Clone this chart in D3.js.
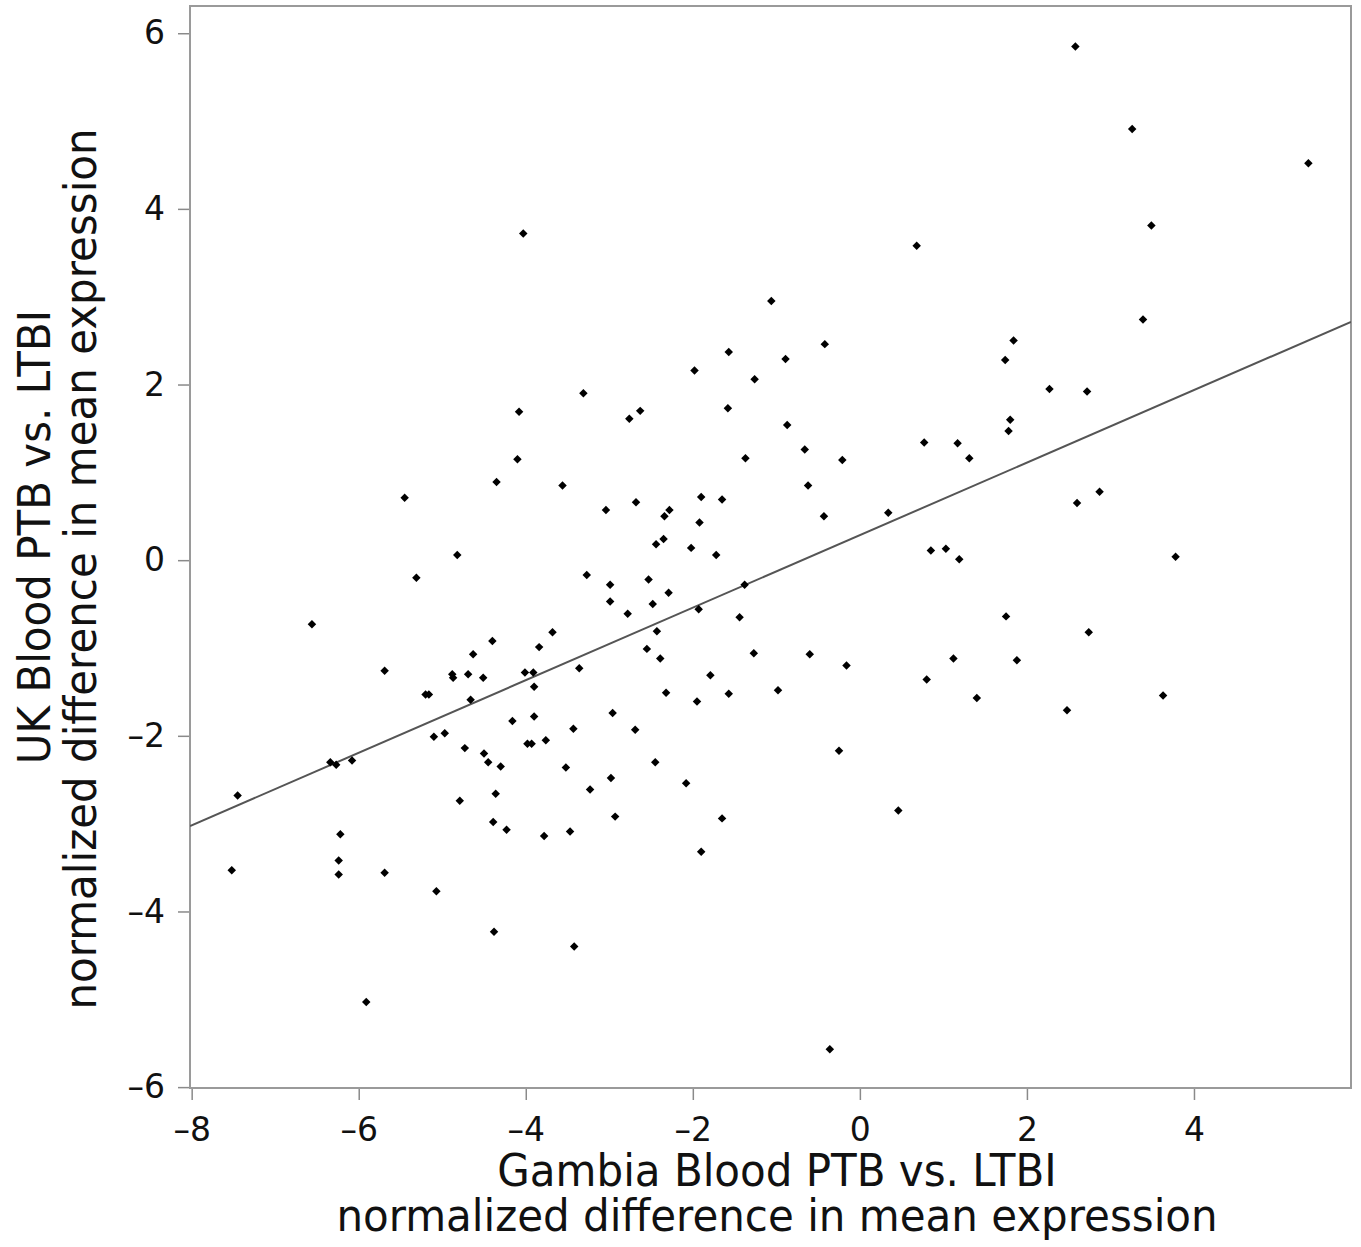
<!DOCTYPE html>
<html>
<head>
<meta charset="utf-8">
<script src="https://cdn.jsdelivr.net/npm/d3@7"></script>
<style>
  html, body { margin: 0; padding: 0; background: #fff; overflow: hidden; }
  svg { display: block; }
  text { font-family: "DejaVu Sans", sans-serif; fill: #111; }
</style>
</head>
<body>
<script>
// x: Gambia Blood PTB vs. LTBI, y: UK Blood PTB vs. LTBI (same order)
var gambiaDiff = [
  2.58, 3.26, 5.37, 3.49, -4.03, 0.68, 3.39, -1.06, 1.84, -0.42,
  -1.57, 1.74, -0.89, -1.98, -1.26, 2.27, 2.72, -3.31, -4.08, -2.63,
  -2.76, -1.58, 1.80, 1.78, -0.87, -0.66, 0.77, 1.17, 1.31, -1.37,
  -4.10, -0.21, -3.56, -4.35, -0.62, 2.87, -5.45, -2.68, -1.90, -1.65,
  2.60, -3.04, -2.28, -2.34, 0.34, -0.43, -1.92, -2.02, -2.44, -2.35,
  -1.72, -4.82, 0.85, 1.03, 1.19, 3.78, -5.31, -3.27, -2.53, -2.99,
  -1.38, -2.29, -2.99, -2.48, -2.78, -1.93, -6.56, -1.44, 1.75, 2.74,
  -3.68, -2.43, -4.40, -3.84, -2.55, -4.63, -1.27, -0.60, -2.39, -0.16,
  1.12, 1.88, 0.80, 1.40, 2.48, 3.63, -1.79, -2.32, -1.95, -1.57,
  -0.98, -3.36, -5.69, -4.88, -4.87, -4.69, -4.51, -5.20, -5.16, -4.01,
  -3.91, -3.90, -4.66, -3.90, -4.16, -3.43, -3.98, -3.93, -3.76, -5.10,
  -4.97, -4.73, -4.50, -4.45, -4.30, -3.52, -6.34, -6.27, -6.08, -7.45,
  -3.23, -4.79, -4.36, -4.39, -4.23, -3.78, -3.47, -6.22, -6.24, -6.24,
  -7.52, -5.69, -5.07, -4.38, -3.42, -5.91, -2.96, -2.69, -2.45, -2.98,
  -2.08, -0.25, -2.93, -1.65, 0.46, -1.90, -0.36
];
var ukDiff = [
  5.85, 4.91, 4.52, 3.81, 3.72, 3.58, 2.74, 2.95, 2.50, 2.46,
  2.37, 2.28, 2.29, 2.16, 2.06, 1.95, 1.92, 1.90, 1.69, 1.70,
  1.61, 1.73, 1.60, 1.47, 1.54, 1.26, 1.34, 1.33, 1.16, 1.16,
  1.15, 1.14, 0.85, 0.89, 0.85, 0.78, 0.71, 0.66, 0.72, 0.69,
  0.65, 0.57, 0.57, 0.50, 0.54, 0.50, 0.43, 0.14, 0.18, 0.24,
  0.06, 0.06, 0.11, 0.13, 0.01, 0.04, -0.20, -0.17, -0.22, -0.28,
  -0.28, -0.37, -0.47, -0.50, -0.61, -0.56, -0.73, -0.65, -0.64, -0.82,
  -0.82, -0.81, -0.92, -0.99, -1.01, -1.07, -1.06, -1.07, -1.12, -1.20,
  -1.12, -1.14, -1.36, -1.57, -1.71, -1.54, -1.31, -1.51, -1.61, -1.52,
  -1.48, -1.23, -1.26, -1.30, -1.34, -1.30, -1.34, -1.53, -1.53, -1.28,
  -1.28, -1.44, -1.59, -1.78, -1.83, -1.92, -2.09, -2.09, -2.05, -2.01,
  -1.97, -2.14, -2.20, -2.30, -2.35, -2.36, -2.30, -2.33, -2.28, -2.68,
  -2.61, -2.74, -2.66, -2.98, -3.07, -3.14, -3.09, -3.12, -3.42, -3.58,
  -3.53, -3.56, -3.77, -4.23, -4.40, -5.03, -1.74, -1.93, -2.30, -2.48,
  -2.54, -2.17, -2.92, -2.94, -2.85, -3.32, -5.57
];
var xTickValues = [-8, -6, -4, -2, 0, 2, 4];
var yTickValues = [-6, -4, -2, 0, 2, 4, 6];
// fitted line
var fitSlope = 0.413;
var fitIntercept = 0.285;

var xTitle = ["Gambia Blood PTB vs. LTBI", "normalized difference in mean expression"];
var yTitle = ["UK Blood PTB vs. LTBI", "normalized difference in mean expression"];

var points = gambiaDiff.map(function (d, i) {
  return { x: d, y: ukDiff[i] };
});

const width = 1361;
const height = 1247;
const margin = { left: 190, right: 10, top: 6, bottom: 159 };
const innerWidth = width - margin.left - margin.right;
const innerHeight = height - margin.top - margin.bottom;

var svg = d3.select("body").append("svg")
  .attr("width", width)
  .attr("height", height);

var g = svg.append("g")
  .attr("transform", `translate(${margin.left},${margin.top})`);

var xScale = d3.scaleLinear().domain([-8.02, 5.88]).range([0, innerWidth]);
var yScale = d3.scaleLinear().domain([-6.01, 6.31]).range([innerHeight, 0]);

var fmt = function (d) {
  return d < 0 ? "\u2013" + Math.abs(d) : String(d);
};

var xAxis = d3.axisBottom(xScale).tickValues(xTickValues).tickFormat(fmt)
  .tickSize(12).tickPadding(18);
var yAxis = d3.axisLeft(yScale).tickValues(yTickValues).tickFormat(fmt)
  .tickSize(12).tickPadding(13);

var xAxisG = g.append("g")
  .attr("transform", `translate(0,${innerHeight})`)
  .call(xAxis);
var yAxisG = g.append("g").call(yAxis);

[xAxisG, yAxisG].forEach(function (ax) {
  ax.select(".domain").remove();
  ax.selectAll(".tick line").attr("stroke", "#8a8a8a").attr("stroke-width", 1.5);
  ax.selectAll(".tick text")
    .style("font-family", "DejaVu Sans")
    .style("font-size", "33px")
    .attr("fill", "#111");
});

// frame
g.append("rect")
  .attr("width", innerWidth)
  .attr("height", innerHeight)
  .attr("fill", "none")
  .attr("stroke", "#9a9a9a")
  .attr("stroke-width", 2);

g.append("clipPath").attr("id", "clip")
  .append("rect").attr("width", innerWidth).attr("height", innerHeight);

// regression line
var xd = xScale.domain();
g.append("line")
  .attr("clip-path", "url(#clip)")
  .attr("x1", xScale(xd[0]))
  .attr("y1", yScale(fitIntercept + fitSlope * xd[0]))
  .attr("x2", xScale(xd[1]))
  .attr("y2", yScale(fitIntercept + fitSlope * xd[1]))
  .attr("stroke", "#555")
  .attr("stroke-width", 2);

// points
var diamond = d3.symbol().type(d3.symbolSquare).size(36);
g.selectAll(".pt")
  .data(points)
  .enter()
  .append("path")
  .attr("class", "pt")
  .attr("d", diamond)
  .attr("transform", function (d) {
    return "translate(" + xScale(d.x) + "," + yScale(d.y) + ") rotate(45)";
  })
  .attr("fill", "#000");

// axis titles (the original text is slightly stretched vertically)
function title(tx, ty, rot, label) {
  svg.append("text")
    .attr("transform", "translate(" + tx + "," + ty + ")" +
      (rot ? " rotate(-90)" : "") + " scale(1,1.05)")
    .attr("text-anchor", "middle")
    .style("font-size", "42px")
    .text(label);
}
title(777, 1186, false, xTitle[0]);
title(777, 1231, false, xTitle[1]);
title(50, 537, true, yTitle[0]);
title(96, 569, true, yTitle[1]);
</script>
</body>
</html>
